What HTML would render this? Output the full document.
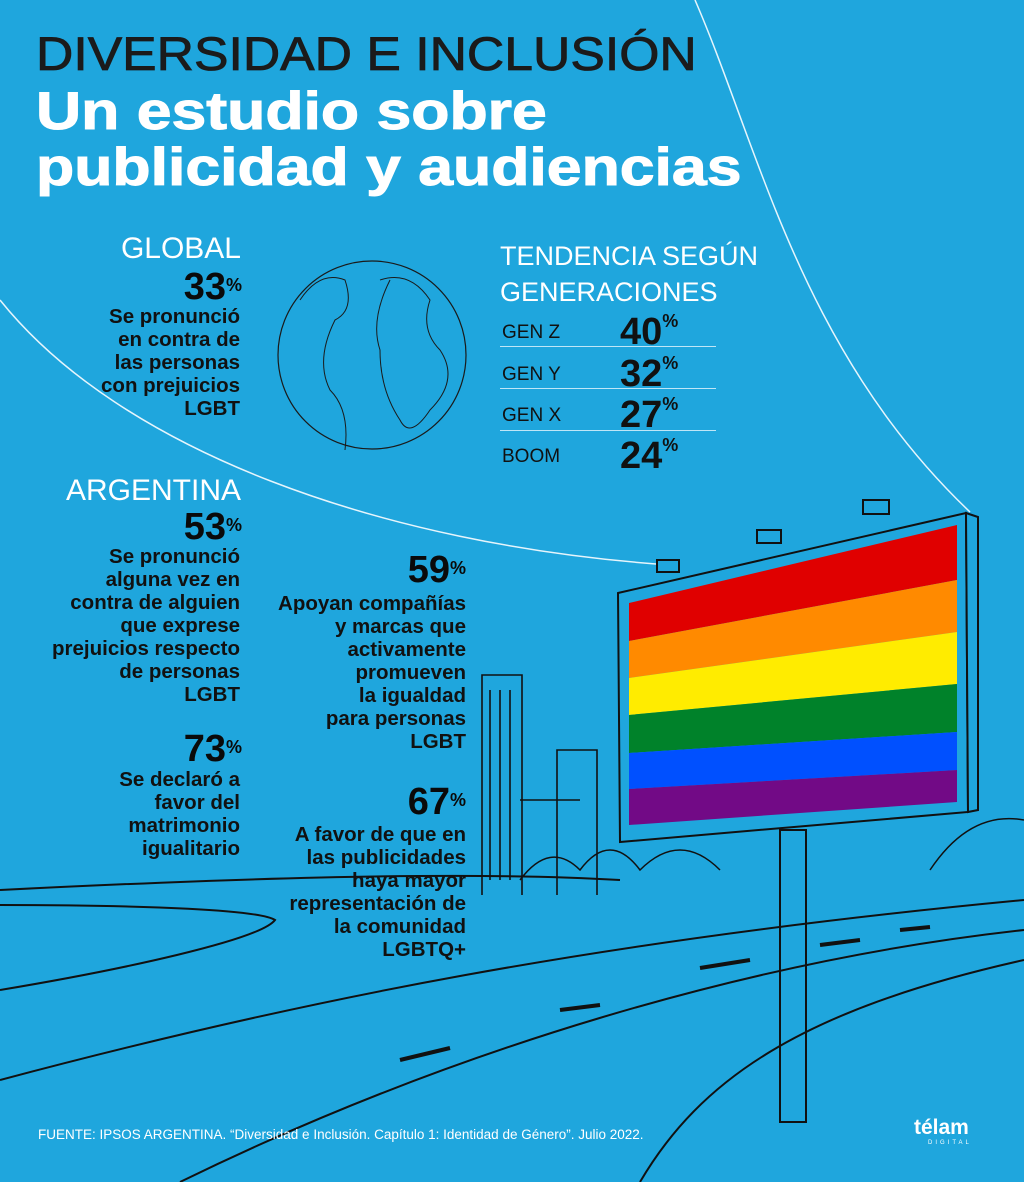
<!DOCTYPE html>
<html><head><meta charset="utf-8"><style>
body{margin:0;width:1024px;height:1182px;background:#1fa6dd;overflow:hidden;position:relative;font-family:"Liberation Sans",sans-serif}
.a{position:absolute}
.t1{left:36px;top:26px;font-size:47px;color:#1b1b1b;white-space:nowrap;transform:scaleX(1.1);transform-origin:left top;font-weight:normal;-webkit-text-stroke:0.8px #1b1b1b}
.t2{left:36px;top:84px;font-size:53px;font-weight:900;color:#fff;line-height:56px;white-space:nowrap;transform:scaleX(1.18);transform-origin:left top;-webkit-text-stroke:1px #fff}
.lt{color:#fff;font-weight:normal;white-space:nowrap}
.r{text-align:right;color:#111;font-weight:bold;font-size:20.5px;line-height:23px;white-space:nowrap}
.big{font-size:38px;font-weight:900;line-height:38px;color:#0a0a0a}
.big sup{font-size:18px;vertical-align:top;position:relative;top:-2px}
.gen{left:502px;width:214px;font-size:19px;color:#111}
.gen b{position:absolute;left:118px;font-size:38px;font-weight:900;top:-11px}
.gen b sup{font-size:18px;vertical-align:top}
.gl{left:500px;width:216px;height:0;border-top:1.5px solid #bfe6f7}
</style></head><body>
<svg class="a" style="left:0;top:0" width="1024" height="1182">
<path d="M695 0 C 760 150 800 350 970 512" stroke="#e6f5fc" stroke-width="1.5" fill="none"/>
<path d="M0 300 C 120 450 380 545 670 565" stroke="#e6f5fc" stroke-width="1.5" fill="none"/>
<circle cx="372" cy="355" r="94" stroke="#1a1a1a" stroke-width="1.2" fill="none"/>
<path d="M300 300 q20 -30 45 -20 q10 30 -10 40 q-20 40 -5 70 q20 20 15 60 M380 280 q30 -10 50 20 q-10 30 10 50 q20 30 -10 60 q-20 30 -30 10 q-20 -30 -20 -70 q-10 -30 10 -70" stroke="#1a1a1a" fill="none" stroke-width="1"/>
<path d="M0 890 C 200 880 450 870 620 880 M0 905 C 150 905 260 910 275 920 C 260 940 120 970 0 990" stroke="#111" stroke-width="2" fill="none"/>
<path d="M0 1080 C 300 1000 600 940 1024 900 M180 1182 C 450 1050 750 960 1024 930 M640 1182 C 700 1080 800 1010 1024 960" stroke="#111" stroke-width="2" fill="none"/>
<path d="M560 1010 l40 -5 M700 968 l50 -8 M820 945 l40 -5 M400 1060 l50 -12 M900 930 l30 -3" stroke="#111" stroke-width="4"/>
<path d="M482 895 V675 h40 V895 M490 690 v190 M500 690 v190 M510 690 v190 M557 895 V750 h40 V895 M520 800 h60" stroke="#111" stroke-width="1.6" fill="none"/>
<path d="M520 880 q30 -40 60 -10 q30 -40 60 0 q40 -40 80 0 M930 870 q40 -60 94 -50" stroke="#111" stroke-width="1.5" fill="none"/>
<rect x="780" y="830" width="26" height="292" fill="none" stroke="#111" stroke-width="2"/>
<polygon points="618,593 966,513 968,812 620,842" fill="#1fa6dd" stroke="#111" stroke-width="2"/>
<polygon points="966,513 978,517 978,810 968,812" fill="#1fa6dd" stroke="#111" stroke-width="2"/>
<polygon points="629,603 957,525 957,580 629,641" fill="#e00000"/>
<polygon points="629,641 957,580 957,632 629,678" fill="#ff8a00"/>
<polygon points="629,678 957,632 957,684 629,715" fill="#ffec00"/>
<polygon points="629,715 957,684 957,732 629,753" fill="#00822a"/>
<polygon points="629,753 957,732 957,770 629,789" fill="#0050ff"/>
<polygon points="629,789 957,770 957,802 629,825" fill="#720a86"/>
<g stroke="#111" stroke-width="2" fill="#1fa6dd"><rect x="657" y="560" width="22" height="12"/><rect x="757" y="530" width="24" height="13"/><rect x="863" y="500" width="26" height="14"/></g>
</svg>
<div class="a t1">DIVERSIDAD E INCLUSIÓN</div>
<div class="a t2">Un estudio sobre<br>publicidad y audiencias</div>

<div class="a lt" style="right:783px;top:232px;font-size:30px">GLOBAL</div>
<div class="a r big" style="right:782px;top:268px">33<sup>%</sup></div>
<div class="a r" style="right:784px;top:305px">Se pronunció<br>en contra de<br>las personas<br>con prejuicios<br>LGBT</div>

<div class="a lt" style="left:500px;top:238px;font-size:27px;line-height:36px">TENDENCIA SEGÚN<br>GENERACIONES</div>
<div class="a gen" style="top:322px">GEN Z<b>40<sup>%</sup></b></div>
<div class="a gl" style="top:346px"></div>
<div class="a gen" style="top:364px">GEN Y<b>32<sup>%</sup></b></div>
<div class="a gl" style="top:388px"></div>
<div class="a gen" style="top:405px">GEN X<b>27<sup>%</sup></b></div>
<div class="a gl" style="top:430px"></div>
<div class="a gen" style="top:446px">BOOM<b>24<sup>%</sup></b></div>

<div class="a lt" style="right:783px;top:474px;font-size:30px">ARGENTINA</div>
<div class="a r big" style="right:782px;top:508px">53<sup>%</sup></div>
<div class="a r" style="right:784px;top:545px">Se pronunció<br>alguna vez en<br>contra de alguien<br>que exprese<br>prejuicios respecto<br>de personas<br>LGBT</div>

<div class="a r big" style="right:558px;top:551px">59<sup>%</sup></div>
<div class="a r" style="right:558px;top:592px">Apoyan compañías<br>y marcas que<br>activamente<br>promueven<br>la igualdad<br>para personas<br>LGBT</div>

<div class="a r big" style="right:782px;top:730px">73<sup>%</sup></div>
<div class="a r" style="right:784px;top:768px">Se declaró a<br>favor del<br>matrimonio<br>igualitario</div>

<div class="a r big" style="right:558px;top:783px">67<sup>%</sup></div>
<div class="a r" style="right:558px;top:823px">A favor de que en<br>las publicidades<br>haya mayor<br>representación de<br>la comunidad<br>LGBTQ+</div>

<div class="a" style="left:38px;top:1127px;font-size:13.5px;color:#fff;white-space:nowrap">FUENTE: IPSOS ARGENTINA. “Diversidad e Inclusión. Capítulo 1: Identidad de Género”. Julio 2022.</div>
<div class="a" style="left:914px;top:1116px;font-size:21px;font-weight:bold;color:#fff">télam</div>
<div class="a" style="left:928px;top:1140px;font-size:6px;color:#fff;letter-spacing:3px">DIGITAL</div>
</body></html>
